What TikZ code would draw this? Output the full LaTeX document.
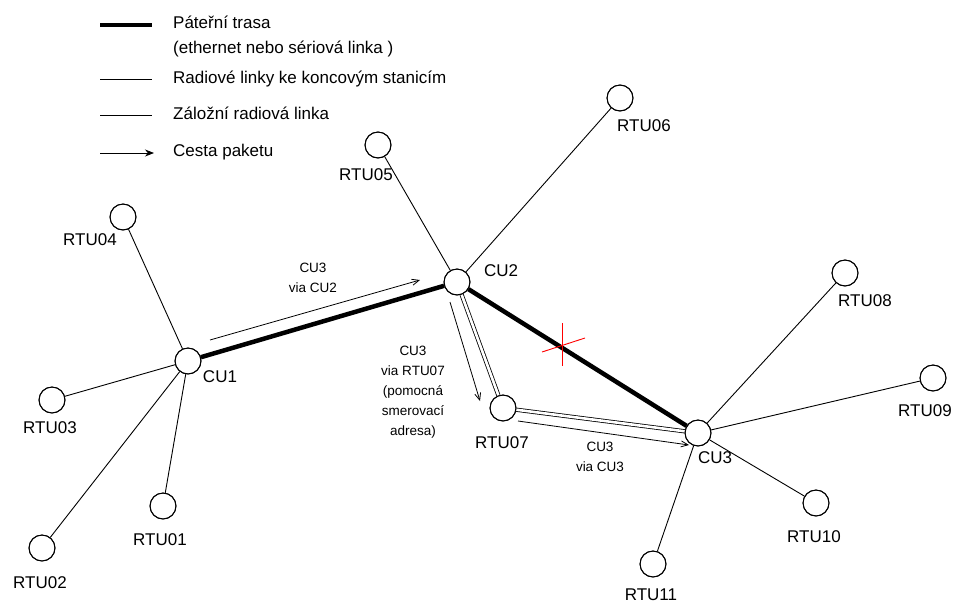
\documentclass[tikz,border=0pt]{standalone}
\usepackage{fontspec}
\setmainfont{Liberation Sans}
\usetikzlibrary{arrows.meta}
\begin{document}
\begin{tikzpicture}[x=1pt,y=-1pt,
  station/.style={circle,draw,line width=0.9pt,minimum size=26pt,inner sep=0pt,fill=white},
  lbl/.style={font=\fontsize{17}{20}\selectfont,inner sep=0pt,text height=0.72em,text depth=0pt,anchor=center},
  small/.style={font=\fontsize{13.5}{20}\selectfont,inner sep=0pt,align=center,anchor=center},
  radio/.style={line width=0.9pt},
  backbone/.style={line width=4.5pt},
  backup/.style={double,line width=0.8pt,double distance=2.6pt},
  route/.style={line width=0.8pt,-{Straight Barb[length=7pt,width=6pt,line width=0.8pt]}},
  cross/.style={red,line width=0.9pt}]
\useasboundingbox (0,0) rectangle (955,606);
% legend
\coordinate (l1a) at (100,25); \coordinate (l1b) at (152,25);
\coordinate (l2a) at (100,79); \coordinate (l2b) at (152,79);
\coordinate (l3a) at (100,115); \coordinate (l3b) at (152,115);
\coordinate (l4a) at (100,153); \coordinate (l4b) at (154,153);
\draw[line width=4pt] (l1a) -- (l1b);
\draw[radio] (l2a) -- (l2b);
\draw[radio] (l3a) -- (l3b);
\draw[line width=0.8pt,-{Stealth[length=9pt,width=7pt]}] (l4a) -- (l4b);
\node[lbl,anchor=west] (t1) at (173,25) {Páteřní trasa};
\node[lbl,anchor=west] (t2) at (173,50) {(ethernet nebo sériová linka )};
\node[lbl,anchor=west] (t3) at (173,79.5) {Radiové linky ke koncovým stanicím};
\node[lbl,anchor=west] (t4) at (173,115.5) {Záložní radiová linka};
\node[lbl,anchor=west] (t5) at (173,152.5) {Cesta paketu};
% stations
\node[station] (CU1) at (188,361) {};
\node[station] (CU2) at (457,282) {};
\node[station] (CU3) at (698,433) {};
\node[station] (R01) at (163,506) {};
\node[station] (R02) at (42,548) {};
\node[station] (R03) at (52,400) {};
\node[station] (R04) at (123,217) {};
\node[station] (R05) at (378,145) {};
\node[station] (R06) at (620,98) {};
\node[station] (R07) at (503,408) {};
\node[station] (R08) at (845,273) {};
\node[station] (R09) at (933,378) {};
\node[station] (R10) at (816,503) {};
\node[station] (R11) at (653,564) {};
% links
\draw[radio] (CU1) -- (R01);
\draw[radio] (CU1) -- (R02);
\draw[radio] (CU1) -- (R03);
\draw[radio] (CU1) -- (R04);
\draw[radio] (CU2) -- (R05);
\draw[radio] (CU2) -- (R06);
\draw[radio] (CU3) -- (R08);
\draw[radio] (CU3) -- (R09);
\draw[radio] (CU3) -- (R10);
\draw[radio] (CU3) -- (R11);
\draw[backbone] (CU1) -- (CU2);
\draw[backbone] (CU2) -- (CU3);
\draw[backup] (CU2) -- (R07);
\draw[backup] (R07) -- (CU3);
% redraw circles on top
\foreach \n in {CU1,CU2,CU3,R01,R02,R03,R04,R05,R06,R07,R08,R09,R10,R11}
  \draw[line width=0.9pt] (\n) circle (13pt);
% route arrows
\coordinate (p1s) at (210,340); \coordinate (p1e) at (420,280);
\coordinate (p2s) at (450,302); \coordinate (p2e) at (480,401);
\coordinate (p3s) at (518,421); \coordinate (p3e) at (689,445);
\draw[route] (p1s) -- (p1e);
\draw[route] (p2s) -- (p2e);
\draw[route] (p3s) -- (p3e);
% red cross
\coordinate (x1) at (562,323); \coordinate (x2) at (562,366);
\coordinate (x3) at (542,352); \coordinate (x4) at (585,338);
\draw[cross] (x1) -- (x2);
\draw[cross] (x3) -- (x4);
% station labels
\node[lbl] (lCU1) at (220,379) {CU1};
\node[lbl] (lCU2) at (501,272.5) {CU2};
\node[lbl] (lCU3) at (715,460) {CU3};
\node[lbl] (l01) at (160,542) {RTU01};
\node[lbl] (l02) at (40,585) {RTU02};
\node[lbl] (l03) at (50,430) {RTU03};
\node[lbl] (l04) at (90,242) {RTU04};
\node[lbl] (l05) at (366,177) {RTU05};
\node[lbl] (l06) at (644,128) {RTU06};
\node[lbl] (l07) at (502,445) {RTU07};
\node[lbl] (l08) at (865,303) {RTU08};
\node[lbl] (l09) at (925,413) {RTU09};
\node[lbl] (l10) at (814,539) {RTU10};
\node[lbl] (l11) at (651,597) {RTU11};
% route labels
\node[small] (r1) at (313,278) {CU3\\via CU2};
\node[small] (r2) at (413,392) {CU3\\via RTU07\\(pomocná\\smerovací\\adresa)};
\node[small] (r3) at (600,457) {CU3\\via CU3};
\end{tikzpicture}
\end{document}
